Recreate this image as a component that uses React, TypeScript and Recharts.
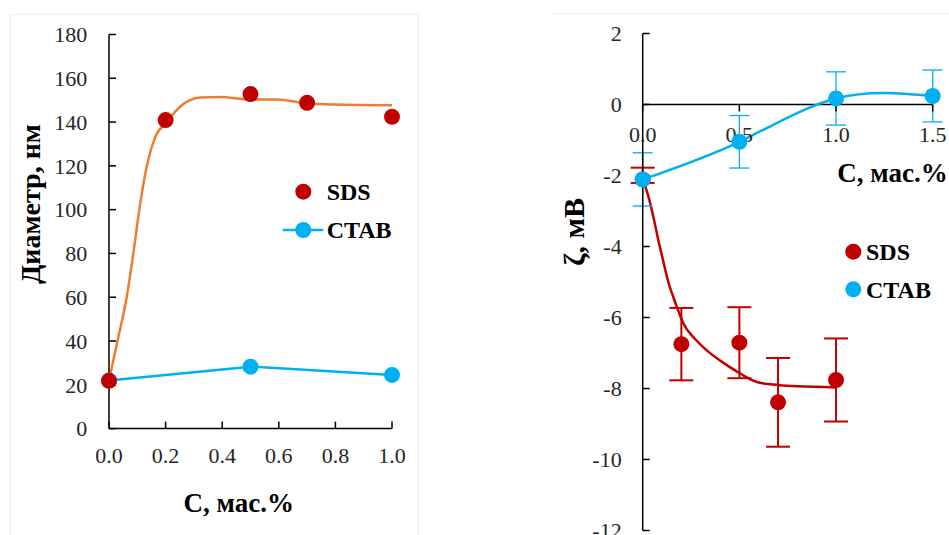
import React from "react";
import {
  ComposedChart,
  Line,
  Scatter,
  XAxis,
  YAxis,
  ErrorBar,
  ReferenceLine,
} from "recharts";

const RED = "#C00000";
const ORANGE = "#ED7D31";
const BLUE = "#00B0F0";
const SERIF = "Liberation Serif, Times New Roman, serif";
const TICK_COLOR = "#262626";

// --- left panel: particle diameter, nm
const SDS_C = [0, 0.2, 0.5, 0.7, 1.0];
const SDS_D = [21.8, 140.9, 152.8, 148.8, 142.4];
const SDS_FIT_C = [0, 0.03, 0.0625, 0.086, 0.107, 0.133, 0.163, 0.204, 0.251, 0.322, 0.392, 0.498, 0.593, 0.699, 0.794, 1.0];
const SDS_FIT_D = [22, 40, 60, 80, 100, 119.5, 133, 140, 147, 151.2, 151.5, 150.3, 150.3, 148.5, 148, 147.7];
const CTAB_C = [0, 0.5, 1.0];
const CTAB_D = [22.0, 28.3, 24.5];
const D_TICKS = [0, 20, 40, 60, 80, 100, 120, 140, 160, 180];
const C_TICKS_L = [0, 0.2, 0.4, 0.6, 0.8, 1.0];

// --- right panel: zeta potential, mV (errors as [minus, plus])
const Z_SDS_C = [0, 0.2, 0.5, 0.7, 1.0];
const Z_SDS = [-2.11, -6.75, -6.71, -8.39, -7.76];
const Z_SDS_ERR_LO = [0.1, 1.02, 1.0, 1.25, 1.17];
const Z_SDS_ERR_HI = [0.33, 1.02, 1.0, 1.25, 1.17];
const Z_SDS_FIT_C = [0, 0.03, 0.055, 0.08, 0.105, 0.13, 0.16, 0.185, 0.21, 0.27, 0.33, 0.41, 0.49, 0.55, 0.6, 0.7, 0.8, 1.0];
const Z_SDS_FIT = [-2.1, -2.6, -3.16, -3.8, -4.38, -4.95, -5.45, -5.82, -6.16, -6.6, -6.92, -7.25, -7.53, -7.72, -7.83, -7.9, -7.94, -7.97];
const Z_CTAB_C = [0, 0.5, 1.0, 1.5];
const Z_CTAB = [-2.11, -1.05, 0.17, 0.24];
const Z_CTAB_ERR = [0.75, 0.74, 0.75, 0.73];
const Z_TICKS = [-12, -10, -8, -6, -4, -2, 0, 2];
const C_TICKS_R = [0, 0.5, 1.0, 1.5];

const zip = (xs: number[], ys: number[], lo?: number[], hi?: number[]) =>
  xs.map((x, i) => ({
    x,
    y: ys[i],
    err: lo ? [lo[i], (hi || lo)[i]] : [0, 0],
  }));

const sdsPts = zip(SDS_C, SDS_D);
const sdsFit = zip(SDS_FIT_C, SDS_FIT_D);
const ctabPts = zip(CTAB_C, CTAB_D);
const zSdsPts = zip(Z_SDS_C, Z_SDS, Z_SDS_ERR_LO, Z_SDS_ERR_HI);
const zSdsFit = zip(Z_SDS_FIT_C, Z_SDS_FIT);
const zCtabPts = zip(Z_CTAB_C, Z_CTAB, Z_CTAB_ERR);
const zAxisTicks = C_TICKS_R.map((x) => ({ x, y: 0, label: x.toFixed(1) }));

const dot = (color: string, r = 8) => (props: any) =>
  <circle cx={props.cx} cy={props.cy} r={r} fill={color} />;

const tickText = (x: number, y: number, label: string, anchor: string, dy: string) => (
  <text x={x} y={y} dy={dy} textAnchor={anchor} fontSize={22} fontFamily={SERIF} fill={TICK_COLOR}>
    {label}
  </text>
);

const xTick = (props: any) => tickText(props.x, props.y, Number(props.payload.value).toFixed(1), "middle", "0.71em");
const yTick = (props: any) => tickText(props.x, props.y, String(props.payload.value), "end", "0.355em");

// x ticks of the right panel sit on the y = 0 line
const zeroTick = (props: any) => (
  <g>
    <line x1={props.cx} x2={props.cx} y1={props.cy} y2={props.cy + 7} stroke="#000" strokeWidth={1.5} />
    {tickText(props.cx, props.cy + 37, props.payload.label, "middle", "0")}
  </g>
);

const axisStroke = { stroke: "#000", strokeWidth: 1.5 };

function DiameterChart() {
  return (
    <ComposedChart width={420} height={535} margin={{ top: 34.5, right: 28, bottom: 0, left: 0 }}>
      <XAxis
        type="number"
        dataKey="x"
        domain={[0, 1]}
        ticks={C_TICKS_L}
        interval={0}
        height={106.4}
        axisLine={axisStroke}
        tickLine={axisStroke}
        tickSize={-7}
        tickMargin={25.5}
        tick={xTick}
      />
      <YAxis
        type="number"
        dataKey="y"
        domain={[0, 180]}
        ticks={D_TICKS}
        interval={0}
        width={109}
        axisLine={axisStroke}
        tickLine={axisStroke}
        tickSize={-7}
        tickMargin={28.7}
        tick={yTick}
      />
      <Line data={ctabPts} dataKey="y" type="linear" stroke={BLUE} strokeWidth={2.5} dot={false} isAnimationActive={false} />
      <Scatter data={ctabPts} dataKey="y" shape={dot(BLUE)} isAnimationActive={false} />
      <Line data={sdsFit} dataKey="y" type="monotone" stroke={ORANGE} strokeWidth={2.5} dot={false} isAnimationActive={false} />
      <Scatter data={sdsPts} dataKey="y" shape={dot(RED)} isAnimationActive={false} />
    </ComposedChart>
  );
}

function ZetaChart() {
  return (
    <ComposedChart width={409} height={535} margin={{ top: 33.5, right: 16.3, bottom: 4.5, left: 0 }}>
      <XAxis type="number" dataKey="x" domain={[0, 1.5]} hide />
      <YAxis
        type="number"
        dataKey="y"
        domain={[-12, 2]}
        ticks={Z_TICKS}
        interval={0}
        width={102.7}
        axisLine={axisStroke}
        tickLine={axisStroke}
        tickSize={-7}
        tickMargin={28}
        tick={yTick}
      />
      <ReferenceLine y={0} stroke="#000" strokeWidth={1.5} />
      <Scatter data={zAxisTicks} dataKey="y" shape={zeroTick} isAnimationActive={false} />
      <Line data={zSdsFit} dataKey="y" type="monotone" stroke={RED} strokeWidth={2.5} dot={false} isAnimationActive={false} />
      <Scatter data={zSdsPts} dataKey="y" shape={dot(RED)} isAnimationActive={false}>
        <ErrorBar dataKey="err" direction="y" width={12} stroke={RED} strokeWidth={2} />
      </Scatter>
      <Line data={zCtabPts} dataKey="y" type="natural" stroke={BLUE} strokeWidth={2.5} dot={false} isAnimationActive={false} />
      <Scatter data={zCtabPts} dataKey="y" shape={dot(BLUE)} isAnimationActive={false}>
        <ErrorBar dataKey="err" direction="y" width={10} stroke={BLUE} strokeWidth={1.3} />
      </Scatter>
    </ComposedChart>
  );
}

const titleProps = { fontFamily: SERIF, fontWeight: "bold" as const, fill: "#000" };

export default function App() {
  return (
    <div style={{ position: "absolute", left: 0, top: 0, width: 949, height: 535, background: "#fff", overflow: "hidden", fontFamily: SERIF }}>
      <svg width={949} height={535} style={{ position: "absolute", left: 0, top: 0 }}>
        <rect x={10.5} y={14.5} width={408} height={530} fill="none" stroke="#ededed" />
        <line x1={553} y1={13.5} x2={949} y2={13.5} stroke="#ededed" />
      </svg>
      <div style={{ position: "absolute", left: 0, top: 0 }}>
        <DiameterChart />
      </div>
      <div style={{ position: "absolute", left: 540, top: 0 }}>
        <ZetaChart />
      </div>
      <svg width={949} height={535} style={{ position: "absolute", left: 0, top: 0, pointerEvents: "none" }}>
        <text transform="translate(40,204) rotate(-90)" textAnchor="middle" fontSize={28} {...titleProps}>
          Диаметр, нм
        </text>
        <text x={238.8} y={511.8} textAnchor="middle" fontSize={27} {...titleProps}>
          C, мас.%
        </text>
        <circle cx={303.3} cy={191.7} r={8} fill={RED} />
        <text x={326.7} y={200} fontSize={24} {...titleProps}>SDS</text>
        <line x1={282.7} x2={323.3} y1={230} y2={230} stroke={BLUE} strokeWidth={2.5} />
        <circle cx={303.3} cy={230} r={8} fill={BLUE} />
        <text x={326.7} y={238.3} fontSize={24} {...titleProps}>CTAB</text>

        <text transform="translate(584,232) rotate(-90)" textAnchor="middle" fontSize={30} {...titleProps}>
          ζ, мВ
        </text>
        <text x={837.3} y={181.7} fontSize={27} {...titleProps}>C, мас.%</text>
        <circle cx={853.3} cy={251.7} r={8} fill={RED} />
        <text x={866} y={260} fontSize={24} {...titleProps}>SDS</text>
        <circle cx={853.3} cy={289.3} r={8} fill={BLUE} />
        <text x={866} y={297.6} fontSize={24} {...titleProps}>CTAB</text>
      </svg>
    </div>
  );
}
